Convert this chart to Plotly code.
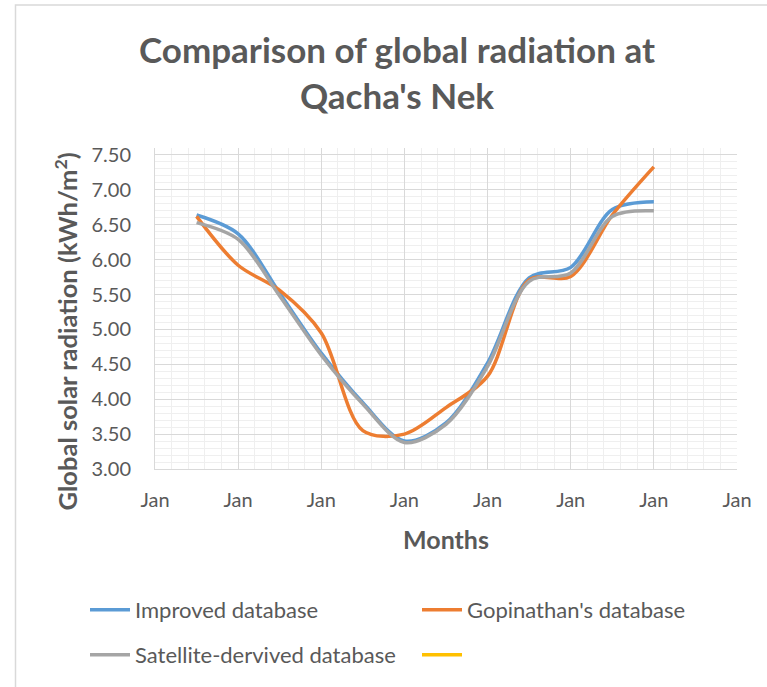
import plotly.graph_objects as go

months = [1, 2, 3, 4, 5, 6, 7, 8, 9, 10, 11, 12]
improved = [6.64, 6.37, 5.52, 4.66, 3.95, 3.40, 3.66, 4.52, 5.74, 5.89, 6.72, 6.83]
gopinathan = [6.62, 5.92, 5.56, 4.95, 3.55, 3.50, 3.88, 4.33, 5.71, 5.76, 6.64, 7.33]
satellite = [6.53, 6.29, 5.48, 4.63, 3.93, 3.38, 3.64, 4.47, 5.69, 5.81, 6.62, 6.70]
x_ticks = [0, 2, 4, 6, 8, 10, 12, 14]
x_ticktext = ["Jan"] * len(x_ticks)
y_ticks = [3.0, 3.5, 4.0, 4.5, 5.0, 5.5, 6.0, 6.5, 7.0, 7.5]

FONT = "Lato"
GREY_TXT = "#595959"

fig = go.Figure()
fig.add_trace(go.Scatter(x=months, y=improved, name="Improved database", mode="lines",
                         line=dict(color="#5B9BD5", width=3.5, shape="spline", smoothing=0.9),
                         legend="legend"))
fig.add_trace(go.Scatter(x=months, y=gopinathan, name="Gopinathan's database", mode="lines",
                         line=dict(color="#ED7D31", width=3.5, shape="spline", smoothing=0.9),
                         legend="legend"))
fig.add_trace(go.Scatter(x=months, y=satellite, name="Satellite-dervived database", mode="lines",
                         line=dict(color="#A5A5A5", width=3.5, shape="spline", smoothing=0.9),
                         legend="legend2"))
fig.add_trace(go.Scatter(x=[None], y=[None], name=" ", mode="lines",
                         line=dict(color="#FFC000", width=3.5), legend="legend2"))

W, H = 767, 687
L, R, T, B = 155, 30, 148, 217
pw, ph = W - L - R, H - T - B

def px_x(p):
    return (p - L) / pw

def px_y(p):
    return (H - B - p) / ph

legend_common = dict(orientation="h", xanchor="left", yanchor="middle",
                     font=dict(family=FONT, size=22, color=GREY_TXT),
                     entrywidth=277, entrywidthmode="pixels",
                     bgcolor="rgba(0,0,0,0)", itemwidth=40)

fig.update_layout(
    width=W, height=H,
    margin=dict(l=L, r=R, t=T, b=B),
    paper_bgcolor="white", plot_bgcolor="white",
    title=dict(text="<b>Comparison of global radiation at<br>Qacha's Nek</b>",
               x=397 / W, xanchor="center", y=1 - 63 / H, yanchor="middle",
               font=dict(family=FONT, size=35, color=GREY_TXT)),
    xaxis=dict(range=[0, 14], tickvals=x_ticks, ticktext=x_ticktext,
               showgrid=True, gridcolor="#D9D9D9", gridwidth=1,
               minor=dict(dtick=0.4, tick0=0, showgrid=True, gridcolor="#EFEFEF", gridwidth=1),
               showline=True, linecolor="#D9D9D9", linewidth=1, zeroline=False,
               ticks="", ticklabelstandoff=13,
               tickfont=dict(family=FONT, size=20, color=GREY_TXT),
               title=dict(text="<b>Months</b>", standoff=21,
                          font=dict(family=FONT, size=25, color=GREY_TXT))),
    yaxis=dict(range=[3.0, 7.6], tickvals=y_ticks, tickformat=".2f",
               showgrid=True, gridcolor="#D9D9D9", gridwidth=1,
               minor=dict(dtick=0.1, tick0=3.0, showgrid=True, gridcolor="#EFEFEF", gridwidth=1),
               showline=True, linecolor="#D9D9D9", linewidth=1, zeroline=False,
               ticks="", ticklabelstandoff=19,
               tickfont=dict(family=FONT, size=20, color=GREY_TXT)),
    annotations=[dict(text="<b>Global solar radiation (kWh/m<sup>2</sup>)</b>",
                      xref="paper", yref="paper", x=px_x(66), y=px_y(332),
                      xanchor="center", yanchor="middle", textangle=-90, showarrow=False,
                      font=dict(family=FONT, size=25.5, color=GREY_TXT))],
    legend=dict(x=px_x(85), y=px_y(610), **legend_common),
    legend2=dict(x=px_x(85), y=px_y(655), **legend_common),
    shapes=[dict(type="rect", xref="paper", yref="paper",
                 x0=px_x(15.5), x1=px_x(780), y0=px_y(700), y1=px_y(4.5),
                 line=dict(color="#D9D9D9", width=1.5), fillcolor="rgba(0,0,0,0)", layer="below")],
)

fig.write_html("out.html", config={"displayModeBar": False},
               post_script="document.body.style.margin='0';")
